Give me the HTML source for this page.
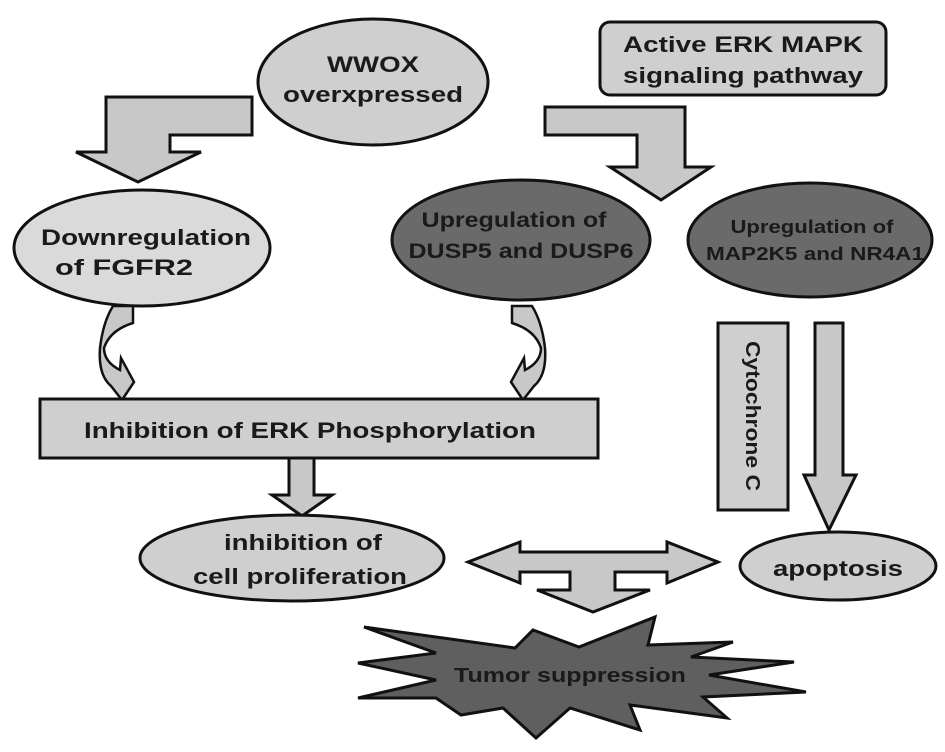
<!DOCTYPE html>
<html><head><meta charset="utf-8"><style>
html,body{margin:0;padding:0;background:#fff;}
svg{display:block;}
text{font-family:"Liberation Sans",Arial,sans-serif;font-weight:bold;fill:#1a1a1a;}
</style></head><body>
<svg width="945" height="752" viewBox="0 0 945 752" xmlns="http://www.w3.org/2000/svg">
<g stroke="#111" stroke-width="3" stroke-linejoin="miter">
<!-- WWOX -->
<ellipse cx="373" cy="82" rx="115" ry="63" fill="#cfcfcf"/>
<rect x="600" y="22" width="286" height="73" rx="10" fill="#cfcfcf"/>
<!-- left bent arrow -->
<polygon points="252,97 252,135 170,135 170,152 201,152 138,182 76,152 106,152 106,97" fill="#c8c8c8"/>
<!-- right bent arrow -->
<polygon points="545,107 685,107 685,167 711,167 661,200 610,167 637,167 637,135 545,135" fill="#c8c8c8"/>
<!-- middle ellipses -->
<ellipse cx="142" cy="248" rx="128" ry="58" fill="#dadada"/>
<ellipse cx="521" cy="240" rx="129" ry="60" fill="#6a6a6a"/>
<ellipse cx="810" cy="240" rx="122" ry="57" fill="#6a6a6a"/>
<!-- curved arrows -->
<path d="M113,306 L133,306 L133,323 Q110,330 104,348 Q104,362 120,370 L121,358 L134,382 L122,400 L111,386 Q98,375 100,348 Q103,322 113,306 Z" fill="#c8c8c8" stroke-width="2.5"/>
<path transform="translate(645,0) scale(-1,1)" d="M113,306 L133,306 L133,323 Q110,330 104,348 Q104,362 120,370 L121,358 L134,382 L122,400 L111,386 Q98,375 100,348 Q103,322 113,306 Z" fill="#c8c8c8" stroke-width="2.5"/>
<!-- ERK box -->
<rect x="40" y="399" width="558" height="59" fill="#cfcfcf"/>
<!-- down arrow -->
<polygon points="289,458 314,458 314,495 332,495 302,516 272,495 289,495" fill="#c8c8c8"/>
<!-- cytochrome box + arrow -->
<rect x="718" y="323" width="70" height="187" fill="#cfcfcf"/>
<polygon points="815,323 843,323 843,475 856,475 829,530 804,475 815,475" fill="#c8c8c8"/>
<!-- bottom ellipses -->
<ellipse cx="292" cy="558" rx="152" ry="43" fill="#cfcfcf"/>
<ellipse cx="838" cy="566" rx="98" ry="34" fill="#cfcfcf"/>
<!-- double arrow with T -->
<polygon points="468,562 520,542 520,552 667,552 667,542 718,562 667,583 667,572 615,572 615,590 650,590 593,612 537,590 570,590 570,572 520,572 520,583" fill="#c8c8c8"/>
<!-- star -->
<polygon points="364,627 515,648 533,630 579,647 655,617 648,645 733,642 691,657 794,662 709,675 806,692 703,697 727,718 630,705 640,730 570,708 536,738 503,708 461,715 436,698 358,698 436,680 358,663 436,653" fill="#5f5f5f"/>
</g>
<text x="373" y="72" font-size="22" text-anchor="middle" textLength="92" lengthAdjust="spacingAndGlyphs">WWOX</text>
<text x="373" y="102" font-size="22" text-anchor="middle" textLength="180" lengthAdjust="spacingAndGlyphs">overxpressed</text>
<text x="743" y="52" font-size="22" text-anchor="middle" textLength="240" lengthAdjust="spacingAndGlyphs">Active ERK MAPK</text>
<text x="743" y="83" font-size="22" text-anchor="middle" textLength="240" lengthAdjust="spacingAndGlyphs">signaling pathway</text>
<text x="146" y="245" font-size="22" text-anchor="middle" textLength="210" lengthAdjust="spacingAndGlyphs">Downregulation</text>
<text x="124" y="275" font-size="22" text-anchor="middle" textLength="138" lengthAdjust="spacingAndGlyphs">of  FGFR2</text>
<text x="514" y="227" font-size="21" text-anchor="middle" textLength="185" lengthAdjust="spacingAndGlyphs">Upregulation of</text>
<text x="521" y="258" font-size="21" text-anchor="middle" textLength="225" lengthAdjust="spacingAndGlyphs">DUSP5 and DUSP6</text>
<text x="812" y="233" font-size="18" text-anchor="middle" textLength="163" lengthAdjust="spacingAndGlyphs">Upregulation of</text>
<text x="815" y="260" font-size="18" text-anchor="middle" textLength="218" lengthAdjust="spacingAndGlyphs">MAP2K5 and NR4A1</text>
<text x="310" y="438" font-size="22" text-anchor="middle" textLength="452" lengthAdjust="spacingAndGlyphs">Inhibition of ERK Phosphorylation</text>
<text x="303" y="550" font-size="22" text-anchor="middle" textLength="158" lengthAdjust="spacingAndGlyphs">inhibition of</text>
<text x="300" y="584" font-size="22" text-anchor="middle" textLength="214" lengthAdjust="spacingAndGlyphs">cell proliferation</text>
<text x="838" y="576" font-size="22" text-anchor="middle" textLength="130" lengthAdjust="spacingAndGlyphs">apoptosis</text>
<text x="570" y="682" font-size="20" text-anchor="middle" textLength="232" lengthAdjust="spacingAndGlyphs">Tumor suppression</text>
<text transform="translate(746,416) rotate(90)" font-size="20" text-anchor="middle" font-weight="bold" textLength="150" lengthAdjust="spacingAndGlyphs">Cytochrone C</text>
</svg>
</body></html>
